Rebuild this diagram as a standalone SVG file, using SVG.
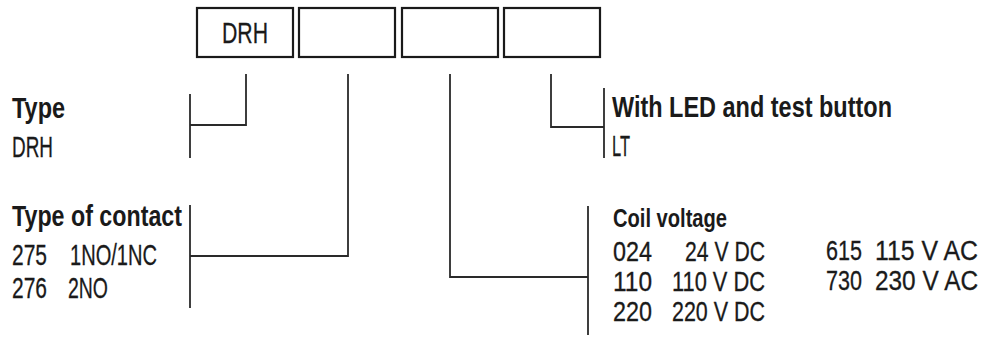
<svg xmlns="http://www.w3.org/2000/svg" width="988" height="337" viewBox="0 0 988 337">
<style>
.box{fill:#fff;stroke:#1a1a1a;stroke-width:2.2}
.ln{fill:none;stroke:#2a2a2a;stroke-width:1.8}
text{font-family:"Liberation Sans",Arial,sans-serif;fill:#1a1a1a}
.h{font-weight:bold;font-size:30px}
.b{font-size:30px;stroke:#1a1a1a;stroke-width:0.3}
.hs{font-weight:bold;font-size:25px}
.bs{font-size:27px;stroke:#1a1a1a;stroke-width:0.3}
</style>
<rect width="988" height="337" fill="#fff"/>
<g id="code-boxes">
<g id="box-type"><rect class="box" x="197" y="8" width="96" height="49"/><text class="b" x="245" y="43" text-anchor="middle" textLength="46" lengthAdjust="spacingAndGlyphs">DRH</text></g>
<g id="box-contact"><rect class="box" x="299" y="8" width="96" height="49"/></g>
<g id="box-coil"><rect class="box" x="402" y="8" width="96" height="49"/></g>
<g id="box-led"><rect class="box" x="504" y="8" width="96" height="49"/></g>
</g>
<g id="connectors">
<polyline class="ln" points="246,74 246,125 190,125"/>
<line class="ln" x1="190" y1="94" x2="190" y2="158"/>
<polyline class="ln" points="348,74 348,256 190,256"/>
<line class="ln" x1="190" y1="205" x2="190" y2="308"/>
<polyline class="ln" points="450,74 450,277 588,277"/>
<line class="ln" x1="588" y1="206" x2="588" y2="335"/>
<polyline class="ln" points="551,74 551,127 604,127"/>
<line class="ln" x1="604" y1="88" x2="604" y2="158"/>
</g>
<g id="type">
<text class="h" x="12" y="118" textLength="53" lengthAdjust="spacingAndGlyphs">Type</text>
<text class="b" x="12" y="157" textLength="41" lengthAdjust="spacingAndGlyphs">DRH</text>
</g>
<g id="contact">
<text class="h" x="12" y="226" textLength="170" lengthAdjust="spacingAndGlyphs">Type of contact</text>
<text class="b" x="12" y="265" textLength="35" lengthAdjust="spacingAndGlyphs">275</text>
<text class="b" x="70" y="265" textLength="87" lengthAdjust="spacingAndGlyphs">1NO/1NC</text>
<text class="b" x="12" y="298" textLength="35" lengthAdjust="spacingAndGlyphs">276</text>
<text class="b" x="68" y="298" textLength="40" lengthAdjust="spacingAndGlyphs">2NO</text>
</g>
<g id="led">
<text class="h" x="612" y="117" textLength="280" lengthAdjust="spacingAndGlyphs">With LED and test button</text>
<text class="b" x="612" y="156" textLength="18" lengthAdjust="spacingAndGlyphs">LT</text>
</g>
<g id="coil">
<text class="hs" x="613" y="227" textLength="114" lengthAdjust="spacingAndGlyphs">Coil voltage</text>
<text class="bs" x="613" y="261" textLength="39" lengthAdjust="spacingAndGlyphs">024</text>
<text class="bs" x="685" y="261" textLength="80" lengthAdjust="spacingAndGlyphs">24 V DC</text>
<text class="bs" x="613" y="291" textLength="39" lengthAdjust="spacingAndGlyphs">110</text>
<text class="bs" x="672" y="291" textLength="93" lengthAdjust="spacingAndGlyphs">110 V DC</text>
<text class="bs" x="613" y="321" textLength="39" lengthAdjust="spacingAndGlyphs">220</text>
<text class="bs" x="672" y="321" textLength="93" lengthAdjust="spacingAndGlyphs">220 V DC</text>
<text class="bs" x="826" y="260" textLength="36" lengthAdjust="spacingAndGlyphs">615</text>
<text class="bs" x="875" y="260" textLength="103" lengthAdjust="spacingAndGlyphs">115 V AC</text>
<text class="bs" x="826" y="290" textLength="36" lengthAdjust="spacingAndGlyphs">730</text>
<text class="bs" x="875" y="290" textLength="103" lengthAdjust="spacingAndGlyphs">230 V AC</text>
</g>
</svg>
